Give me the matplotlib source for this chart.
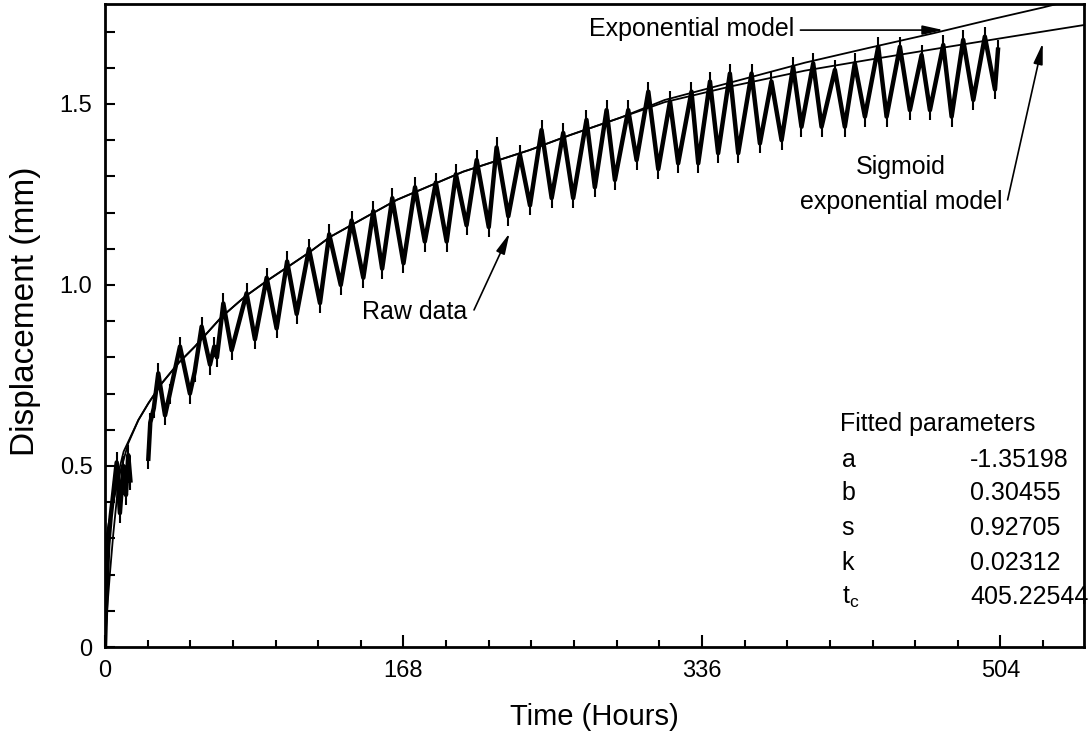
import numpy as np
import matplotlib
matplotlib.use('Agg')
import matplotlib.pyplot as plt
from matplotlib.ticker import MultipleLocator, FixedLocator

plt.rcParams['font.family'] = ['Liberation Sans', 'DejaVu Sans']
plt.rcParams['mathtext.fontset'] = 'custom'
plt.rcParams['mathtext.rm'] = 'Liberation Sans'
plt.rcParams['mathtext.it'] = 'Liberation Sans'

# Raw displacement record (peaks / troughs of the tidal cycles), NaN = gap
raw_t = [0, 0.8, 1.8, 3.2, 4.8, 6.6, 8.4, 10.3, 11.8, 13.1, 14.3, np.nan,
         24.4, 25.5, 27.5, 30.0, 33.8, 36.5, 42.2, 47.8, 50.5, 54.4, 59.1, 61.5, 63.0,
         66.6, 71.3, 79.7, 84.4, 91.0, 96.6, 102.5, 107.9, 114.8, 121.0, 126.2, 132.7,
         138.8, 145.4, 151.0, 156.0, 161.7, 168.0, 174.5, 180.0, 186.2, 192.3, 197.5,
         203.5, 209.2, 216.0, 220.4, 227.0, 233.5, 239.2, 245.7, 251.4, 257.9, 263.5,
         271.0, 275.7, 282.3, 287.0, 294.5, 299.2, 305.8, 311.4, 318.0, 322.6, 330.1,
         333.9, 340.5, 345.1, 351.7, 356.4, 363.9, 368.6, 375.1, 380.8, 387.3, 392.0,
         398.6, 403.3, 410.8, 416.4, 422.0, 427.7, 435.2, 439.9, 447.4, 453.0, 459.6,
         464.3, 471.8, 476.5, 483.0, 488.7, 495.2, 500.9, 502.6]
raw_v = [0.0, 0.15, 0.28, 0.36, 0.43, 0.51, 0.37, 0.50, 0.42, 0.53, 0.46, np.nan,
         0.52, 0.62, 0.66, 0.756, 0.64, 0.70, 0.83, 0.70, 0.76, 0.885, 0.78, 0.83, 0.80,
         0.949, 0.82, 0.977, 0.85, 1.02, 0.88, 1.065, 0.92, 1.10, 0.95, 1.14, 1.00,
         1.178, 1.02, 1.204, 1.045, 1.24, 1.06, 1.27, 1.12, 1.283, 1.12, 1.306,
         1.165, 1.345, 1.16, 1.38, 1.19, 1.36, 1.22, 1.428, 1.24, 1.42, 1.24,
         1.456, 1.27, 1.483, 1.29, 1.483, 1.345, 1.534, 1.32, 1.507, 1.336, 1.534,
         1.336, 1.562, 1.364, 1.584, 1.364, 1.584, 1.391, 1.562, 1.40, 1.603, 1.437,
         1.612, 1.437, 1.594, 1.437, 1.612, 1.465, 1.658, 1.465, 1.658, 1.483, 1.635,
         1.483, 1.663, 1.465, 1.677, 1.511, 1.686, 1.54, 1.65]

# Exponential model curve
exp_t = [0, 1, 2, 3.8, 6, 8.4, 13.1, 18.8, 24.4, 31.9, 41.3, 50.6, 65.7, 78.8, 91.9,
         103.2, 114.4, 126.8, 164.2, 201.6, 239.2, 261.7, 290, 315, 352.7, 393.9,
         430, 466, 500, 527.5, 551]
exp_v = [0.27, 0.31, 0.34, 0.378, 0.43, 0.48, 0.563, 0.627, 0.673, 0.728, 0.784, 0.830,
         0.912, 0.968, 1.014, 1.051, 1.088, 1.133, 1.235, 1.313, 1.373, 1.414, 1.462,
         1.511, 1.560, 1.614, 1.655, 1.695, 1.735, 1.766, 1.795]

# Sigmoid exponential model curve
sig_t = [0, 1, 2.8, 4.7, 6.6, 8.4, 10.5, 13.1, 18.8, 24.4, 31.9, 41.3, 50.6, 65.7, 78.8,
         91.9, 103.2, 114.4, 126.8, 164.2, 201.6, 239.2, 261.7, 290, 315, 352.7, 393.9,
         430, 466, 510, 551]
sig_v = [0, 0.09, 0.204, 0.314, 0.406, 0.498, 0.54, 0.567, 0.627, 0.673, 0.728, 0.784,
         0.830, 0.912, 0.968, 1.014, 1.051, 1.088, 1.133, 1.235, 1.313, 1.373, 1.414,
         1.462, 1.505, 1.549, 1.592, 1.622, 1.651, 1.686, 1.718]

x_ticks = [0, 168, 336, 504]
y_ticks = [0, 0.5, 1.0, 1.5]
y_tick_labels = ['0', '0.5', '1.0', '1.5']

param_names = ['a', 'b', 's', 'k', r'$\mathregular{t_c}$']
param_values = ['-1.35198', '0.30455', '0.92705', '0.02312', '405.22544']

fig = plt.figure(figsize=(10.89, 7.33), dpi=100)
ax = fig.add_axes([0.0964, 0.1173, 0.899, 0.8772])

ax.plot(raw_t, raw_v, color='black', lw=3.2, marker='|', ms=14, mew=1.5)
ax.plot(exp_t, exp_v, color='black', lw=1.3)
ax.plot(sig_t, sig_v, color='black', lw=1.3)

ax.set_xlim(0, 551)
ax.set_ylim(0, 1.776)
ax.xaxis.set_major_locator(FixedLocator(x_ticks))
ax.xaxis.set_minor_locator(MultipleLocator(24))
ax.yaxis.set_major_locator(FixedLocator(y_ticks))
ax.yaxis.set_minor_locator(MultipleLocator(0.1))
ax.set_yticklabels(y_tick_labels)

ax.tick_params(which='both', direction='in', labelsize=17, width=1.5, pad=9)
ax.tick_params(axis='x', which='major', length=9)
ax.tick_params(axis='x', which='minor', length=5)
ax.tick_params(axis='y', which='both', length=7)
for sp in ax.spines.values():
    sp.set_linewidth(2)

ax.set_xlabel('Time (Hours)', fontsize=21)
ax.set_ylabel('Displacement (mm)', fontsize=24)
ax.xaxis.set_label_coords(0.5, -0.087)
ax.yaxis.set_label_coords(-0.065, 0.5225)

# annotations
arrow = dict(arrowstyle='-|>,head_length=0.9,head_width=0.2', color='black',
             lw=1.2, mutation_scale=14, shrinkA=0, shrinkB=0)
ax.text(272.4, 1.707, 'Exponential model', fontsize=18, va='center', ha='left')
ax.annotate('', xy=(471.9, 1.704), xytext=(391.4, 1.704), arrowprops=arrow)

ax.text(203.7, 0.925, 'Raw data', fontsize=18, va='center', ha='right')
ax.annotate('', xy=(227.7, 1.143), xytext=(207.7, 0.931), arrowprops=arrow)

ax.text(448, 1.325, 'Sigmoid', fontsize=18, va='center', ha='center')
ax.text(448, 1.228, 'exponential model', fontsize=18, va='center', ha='center')
ax.annotate('', xy=(527.8, 1.668), xytext=(508.0, 1.235), arrowprops=arrow)

# fitted parameters table
ax.text(413.6, 0.616, 'Fitted parameters', fontsize=18, va='center', ha='left')
row_v = [0.517, 0.425, 0.329, 0.232, 0.138]
for name, val, v in zip(param_names, param_values, row_v):
    ax.text(414.6, v, name, fontsize=18, va='center', ha='left')
    ax.text(486.8, v, val, fontsize=18, va='center', ha='left')

fig.savefig('out.png', dpi=100)
